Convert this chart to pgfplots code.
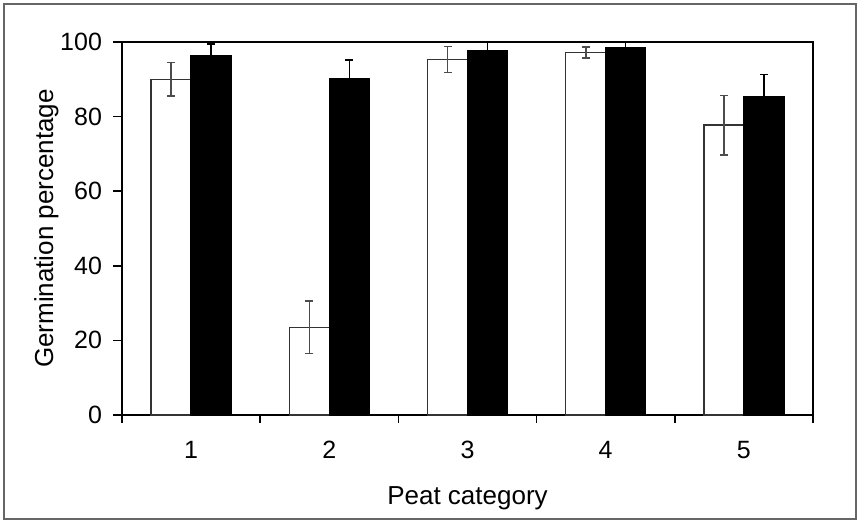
\documentclass[border=0pt]{standalone}
\usepackage{pgfplots}
\pgfplotsset{compat=1.18}
\usepackage{fontspec}
\setmainfont{Liberation Sans}
\begin{document}
\fontsize{13}{15}\selectfont
\begin{tikzpicture}
\begin{axis}[
  scale only axis,
  width=345.5pt, height=186.5pt,
  xmin=0.5, xmax=5.5, ymin=0, ymax=100,
  xtick={1,2,3,4,5},
  major x tick style={draw=none},
  minor xtick={0.5,1.5,2.5,3.5,4.5,5.5},
  minor tick length=4pt,
  ytick={0,20,40,60,80,100},
  major tick length=4.5pt,
  tick align=outside,
  xtick pos=bottom, ytick pos=left,
  axis line style={line width=1pt},
  tick style={line width=0.8pt, black},
  /pgf/number format/assume math mode=true,
  ticklabel style={font=\fontsize{12.5}{15}\selectfont},
  xticklabel style={yshift=-4pt},
  yticklabel style={xshift=-1pt},
  label style={font=\fontsize{13}{15}\selectfont},
  xlabel={Peat category},
  ylabel={Germination percentage},
  xlabel style={yshift=-5pt},
  ylabel style={yshift=-8pt},
  ybar, bar width=20pt,
  clip=false,
]
\addplot[fill=white, draw=black!80, line width=0.7pt, bar shift=-10pt,
  error bars/.cd, y dir=both, y explicit,
  error bar style={line width=0.8pt, black!70},
  error mark options={rotate=90, mark size=2pt, line width=0.8pt, black!70}]
  coordinates {(1,90) +- (0,4.5) (2,23.5) +- (0,7) (3,95.3) +- (0,3.5) (4,97.2) +- (0,1.5) (5,77.7) +- (0,8)};
\addplot[fill=black, draw=black, line width=0.7pt, bar shift=10pt,
  error bars/.cd, y dir=both, y explicit,
  error bar style={line width=0.8pt, black},
  error mark options={rotate=90, mark size=2pt, line width=0.8pt, black}]
  coordinates {(1,96.4) +- (0,3) (2,90.2) +- (0,5) (3,97.8) +- (0,2.2) (4,98.5) +- (0,1.5) (5,85.3) +- (0,6)};
\draw[black!60, line width=0.8pt] (axis description cs:-0.171,-0.279) rectangle (axis description cs:1.062,1.102);
\path (axis description cs:-0.1766,-0.2869) rectangle (axis description cs:1.0666,1.1126);
\end{axis}
\end{tikzpicture}
\end{document}
